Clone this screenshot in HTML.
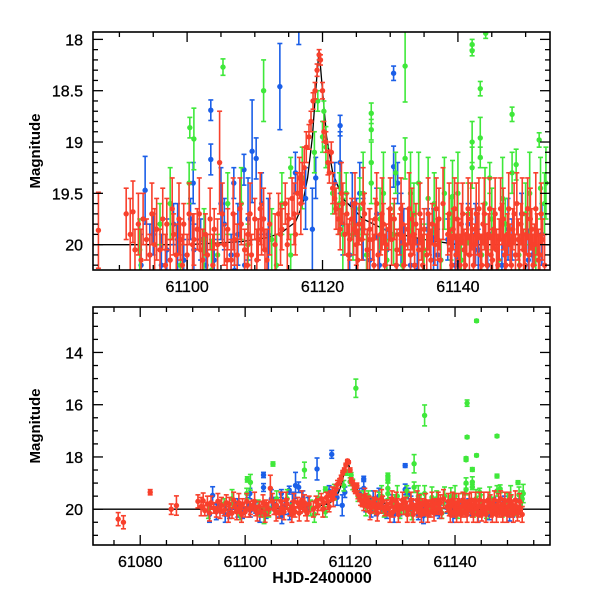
<!DOCTYPE html>
<html><head><meta charset="utf-8"><style>
html,body{margin:0;padding:0;background:#fff;}
svg{display:block;font-family:"Liberation Sans",sans-serif;}
</style></head><body>
<svg id="chart" width="600" height="600" viewBox="0 0 600 600" xmlns="http://www.w3.org/2000/svg">
<defs>
<clipPath id="clipTop"><rect x="93" y="32" width="457" height="238"/></clipPath>
<clipPath id="clipBot"><rect x="93" y="307" width="457" height="238"/></clipPath>
</defs>
<g id="top"></g>
<g id="bot"></g>
</svg>
<script>
// ---- data: [HJD-2400000, magnitude, error] ----
const redPts = [
[61075.8,20.38,0.25],[61076.8,20.5,0.25],[61081.9,19.35,0.1],[61085.9,20.0,0.2],[61086.9,19.86,0.37],
[61091,19.7,0.25],[61092,19.68,0.3],[61092.3,20.05,0.2],[61093.5,19.75,0.25],[61094,19.95,0.2],[61094.5,20.1,0.2],
[61095.5,19.85,0.3],[61096,20.05,0.2],[61097,19.8,0.25],[61097.5,20.15,0.2],[61098,19.9,0.2],[61099,19.95,0.2],
[61099.5,19.8,0.2],[61100,20.1,0.2],[61101,19.95,0.25],[61101.5,19.85,0.2],[61102,20.05,0.2],[61102.7,19.9,0.2],
[61103,20.1,0.2],[61104,19.85,0.2],[61104.5,20.0,0.25],[61104.8,19.2,0.5],[61105.5,20.0,0.2],[61106,19.85,0.2],
[61106.5,20.15,0.2],[61107,19.95,0.25],[61108,19.8,0.2],[61108.5,20.05,0.2],[61109,19.9,0.2],[61109.5,20.1,0.2],
[61110,19.75,0.2],[61110.5,19.95,0.2],[61111,19.85,0.25],[61111.5,20.05,0.2],[61113.5,19.7,0.2],[61114,19.85,0.2],
[61114.5,19.6,0.2],[61115,19.75,0.2],[61115.5,19.55,0.2],[61116,19.9,0.2],[61116.3,19.5,0.2],[61116.6,19.35,0.2],
[61117,19.4,0.2],[61117.3,19.25,0.2],[61117.6,19.05,0.15],[61118,18.95,0.12],[61118.3,18.8,0.1],[61118.6,18.6,0.08],
[61118.9,18.5,0.08],[61119.2,18.3,0.06],[61119.5,18.15,0.05],[61119.7,18.2,0.05],[61120,18.5,0.08],[61120.2,18.9,0.1],
[61120.5,19.0,0.1],[61120.8,19.2,0.12],[61121,19.3,0.1],[61121.3,19.1,0.1],[61121.5,19.45,0.15],[61121.8,19.55,0.15],
[61122,19.65,0.2],[61122.3,19.75,0.15],[61122.6,19.85,0.2],[61123,19.6,0.2],[61123.3,19.9,0.2],[61123.6,19.7,0.2],
[61124,19.95,0.2],[61124.3,19.75,0.2],[61124.6,19.85,0.25],[61125,20.0,0.2],[61125.4,19.8,0.2],[61125.8,19.95,0.2],
[61126.2,19.7,0.2],[61126.6,20.05,0.2],[61127,19.85,0.2],[61127.4,19.95,0.2],[61127.8,19.75,0.2],[61128.2,20.1,0.2],
[61128.6,19.9,0.2],[61129,19.8,0.2],[61129.4,20.0,0.2],[61129.8,19.85,0.2],[61130.2,19.95,0.25],[61130.6,19.75,0.2],
[61131,20.05,0.2],[61131.4,19.9,0.2],[61131.8,19.8,0.2],[61132.2,20.0,0.2],[61132.6,19.85,0.2],[61133,20.1,0.2],
[61133.4,19.9,0.2],[61133.8,19.8,0.2],[61134.2,20.05,0.2],[61134.6,19.95,0.2],[61135,19.85,0.2],[61135.4,20.1,0.2],
[61135.8,19.9,0.2],[61136.2,19.8,0.2],[61136.6,20.0,0.2],[61137,19.95,0.2],[61137.4,20.15,0.2],[61138.5,19.9,0.2],
[61138.9,20.05,0.2],[61139.3,19.85,0.2],[61139.7,20.1,0.2],[61140.1,19.95,0.2],[61140.5,19.8,0.2],[61140.9,20.05,0.2],
[61141.3,19.9,0.2],[61141.7,20.1,0.2],[61142.1,19.85,0.2],[61142.5,20.0,0.2],[61142.9,19.9,0.2],[61143.3,20.1,0.2],
[61143.7,19.8,0.2],[61144.1,20.0,0.2],[61144.5,19.9,0.2],[61144.9,20.1,0.2],[61145.3,19.85,0.2],[61145.7,20.05,0.2],
[61146.1,19.95,0.2],[61146.5,19.8,0.2],[61146.9,20.1,0.2],[61147.3,19.9,0.2],[61147.7,20.0,0.2],[61148.1,19.85,0.2],
[61148.5,20.1,0.2],[61148.9,19.95,0.2],[61149.3,19.8,0.2],[61149.7,20.05,0.2],[61150.1,19.9,0.2],[61150.5,20.1,0.2],
[61150.9,19.85,0.2],[61151.3,20.0,0.2],[61151.7,19.9,0.2],[61152.1,20.1,0.2],[61152.5,19.95,0.2]
];
const redExtra = [
[61091.6,19.9,0.35],[61092.8,19.8,0.3],[61093.2,20.15,0.3],[61094.8,19.7,0.3],[61095.2,20.0,0.35],[61096.4,19.75,0.3],
[61096.8,20.2,0.3],[61097.8,19.65,0.3],[61098.4,20.1,0.3],[61098.8,19.75,0.35],[61099.3,20.2,0.3],[61100.3,19.7,0.3],
[61100.8,20.0,0.3],[61101.8,19.7,0.35],[61102.3,20.15,0.3],[61103.4,19.75,0.3],[61103.8,20.2,0.3],[61105.2,19.7,0.3],
[61105.9,20.15,0.3],[61106.8,19.7,0.35],[61107.4,20.1,0.3],[61107.8,19.65,0.3],[61108.9,20.2,0.3],[61109.3,19.7,0.3],
[61110.3,20.15,0.3],[61110.8,19.65,0.35],[61111.3,19.75,0.3],[61111.8,20.15,0.3],[61112.2,19.8,0.3],[61113.0,20.0,0.3],
[61113.8,19.9,0.3],[61114.8,20.0,0.3],[61115.8,19.7,0.3],[61116.8,19.6,0.3],
[61122.8,19.5,0.3],[61123.8,20.1,0.3],[61124.8,19.6,0.3],[61125.2,20.15,0.3],[61126.0,19.6,0.35],[61126.9,19.95,0.3],
[61127.6,20.2,0.3],[61128.0,19.6,0.3],[61128.8,19.7,0.35],[61129.2,20.2,0.3],[61130.0,19.65,0.3],[61130.9,20.2,0.3],
[61131.6,19.65,0.3],[61132.0,20.2,0.3],[61132.8,19.65,0.35],[61133.2,19.75,0.3],[61133.6,20.2,0.3],[61134.4,19.7,0.3],
[61134.8,20.2,0.3],[61135.6,19.7,0.35],[61136.0,20.15,0.3],[61136.8,19.65,0.3],[61137.2,19.75,0.3],[61137.8,19.6,0.35],
[61138.7,19.7,0.3],[61139.1,20.2,0.3],[61139.5,19.65,0.3],[61139.9,19.75,0.35],[61140.3,20.2,0.3],[61140.7,19.7,0.3],
[61141.1,20.2,0.3],[61141.5,19.65,0.3],[61141.9,19.75,0.35],[61142.3,20.2,0.3],[61142.7,19.7,0.3],[61143.1,19.65,0.3],
[61143.5,20.2,0.3],[61143.9,19.7,0.35],[61144.3,20.2,0.3],[61144.7,19.65,0.3],[61145.1,20.15,0.3],[61145.5,19.7,0.35],
[61145.9,20.2,0.3],[61146.3,19.65,0.3],[61146.7,19.75,0.3],[61147.1,20.2,0.3],[61147.5,19.65,0.35],[61147.9,20.2,0.3],
[61148.3,19.7,0.3],[61148.7,19.6,0.3],[61149.1,20.2,0.3],[61149.5,19.7,0.35],[61149.9,20.2,0.3],[61150.3,19.65,0.3],
[61150.7,19.75,0.3],[61151.1,20.2,0.3],[61151.5,19.65,0.35],[61151.9,20.15,0.3],[61152.3,19.7,0.3],[61152.8,20.2,0.3]
];
const bluePts = [
[61093.8,19.47,0.33],[61103.5,18.69,0.1],[61103.5,19.17,0.15],[61109.6,19.09,0.5],[61110.2,19.16,0.2],
[61113.7,18.46,0.42],[61116.5,17.9,0.15],[61108.4,19.27,0.15],[61100.9,19.4,0.2],[61106.9,19.4,0.15],
[61122.6,18.84,0.1],[61130.5,18.33,0.07],[61130.5,19.24,0.2],[61131.1,19.4,0.2],[61122.6,19.2,0.3],
[61125.5,19.5,0.3],[61149.4,19.7,0.2],
[61094.5,20.1,0.3],[61095,19.9,0.2],[61097,20.05,0.3],[61098,19.8,0.2],[61099.5,20.15,0.2],[61100.5,19.75,0.2],
[61101,20.05,0.25],[61102,19.95,0.2],[61104,20.15,0.2],[61105.5,19.8,0.25],[61106.5,20.1,0.2],[61107.5,19.9,0.3],
[61108.5,20.2,0.2],[61110.5,19.95,0.2],[61111,19.6,0.3],[61116,19.3,0.2],[61117.5,19.55,0.3],[61118.5,19.85,0.4],
[61119,19.35,0.2],[61121.8,19.4,0.2],[61123,19.8,0.3],[61124,20.1,0.2],[61126,19.85,0.3],[61127,20.15,0.2],
[61128,19.7,0.25],[61129.5,20.05,0.2],[61132,19.95,0.3],[61133,20.2,0.2],[61135.5,19.85,0.2],[61137,20.1,0.25],
[61138.5,19.95,0.2],[61140,20.15,0.2],[61141.5,19.8,0.2],[61143,20.05,0.2],[61145,19.9,0.25],[61146.5,20.2,0.2],
[61148,19.95,0.2],[61151,20.1,0.2],
[61093.2,20.2,0.3],[61096.2,20.2,0.3],[61098.6,19.95,0.35],[61102.8,20.2,0.3],[61105,19.6,0.35],[61107,20.25,0.3],
[61109,19.75,0.4],[61112,19.9,0.35],[61124.4,19.6,0.3],[61125,19.9,0.35],[61128.4,20.2,0.3],[61131.6,19.85,0.35],
[61134,20.25,0.3],[61136.4,19.95,0.3],[61139.6,20.2,0.3],[61142.6,19.9,0.3],[61144.4,20.2,0.3],[61147.4,19.85,0.3],
[61150.4,20.15,0.3],[61152.4,19.9,0.3]
];
const greenPts = [
[61105.3,18.27,0.08],[61100.4,18.86,0.1],[61101,18.97,0.3],[61111.3,18.5,0.3],[61100.3,19.4,0.2],
[61115.3,19.25,0.1],[61115.3,20.1,0.2],[61119.3,18.6,0.1],[61120.2,18.7,0.1],[61120.0,18.95,0.15],
[61121.1,15.37,0.35],[61127.2,18.72,0.1],[61127.2,18.88,0.1],[61127.2,19.2,0.2],[61127.2,19.4,0.2],
[61132.2,18.26,0.35],[61132.2,19.16,0.2],[61134.2,16.41,0.4],[61142.3,15.94,0.12],[61142.3,17.24,0.05],
[61142.1,18.05,0.05],[61142.1,18.11,0.05],[61144.1,12.79,0.05],[61144.1,17.94,0.05],[61143.3,18.48,0.07],
[61142.1,19.0,0.2],[61142.1,19.25,0.2],[61143.3,18.96,0.2],[61143.3,19.15,0.1],[61148.0,17.2,0.05],
[61148.0,18.73,0.07],[61152.0,18.98,0.07],[61148.6,19.22,0.15],[61148.0,19.3,0.2],[61139.2,19.53,0.35],
[61134.2,19.4,0.3],[61130.8,19.3,0.2],[61144.7,19.35,0.15],[61152.2,19.45,0.3],
[61093,20.05,0.3],[61096,19.8,0.2],[61099,20.2,0.2],[61102.5,19.95,0.3],[61104.5,20.1,0.2],[61106,19.6,0.3],
[61109,20.0,0.2],[61112.5,19.95,0.3],[61114,19.6,0.3],[61117,19.35,0.3],[61118.8,19.1,0.2],[61120.5,19.05,0.2],
[61121.5,19.5,0.2],[61122.5,19.6,0.3],[61123.5,19.5,0.2],[61124.5,19.9,0.25],[61125.5,19.65,0.3],[61126.5,20.1,0.2],
[61128.5,19.75,0.3],[61129.5,20.15,0.2],[61130.5,19.9,0.3],[61131.8,20.2,0.2],[61133.5,19.7,0.3],[61135,20.05,0.25],
[61136.5,19.6,0.3],[61137.5,20.15,0.2],[61139,19.85,0.3],[61140.5,20.15,0.2],[61141.5,19.7,0.3],[61143.5,20.1,0.2],
[61145,19.75,0.3],[61146,20.15,0.2],[61147,19.8,0.25],[61149,20.1,0.2],[61150,19.7,0.3],[61151.5,20.05,0.2],
[61152.8,19.6,0.3],
[61097.5,19.6,0.35],[61103.6,20.25,0.3],[61108,19.6,0.35],[61113.2,20.2,0.3],[61123,19.9,0.35],[61126,19.5,0.4],
[61129,19.5,0.4],[61133,19.5,0.4],[61135.6,19.55,0.4],[61138,19.5,0.35],[61140,19.5,0.4],[61144,19.6,0.35],
[61146.6,19.55,0.4],[61150.6,19.5,0.4],[61153,19.4,0.35]
];
const modelDays = [61070,61100,61108,61112,61114,61116,61117,61117.8,61118.5,61119.0,61119.5,61120.0,61120.6,61121.5,61123,61126,61130,61135,61140,61160];
const modelMags = [20.0,20.0,19.97,19.93,19.88,19.78,19.62,19.35,18.95,18.5,18.1,18.5,18.95,19.3,19.55,19.75,19.88,19.95,20.0,20.0];
const topXTicks = [61100,61120,61140];
const topYTicks = [18,18.5,19,19.5,20];
const botXTicks = [61080,61100,61120,61140];
const botYTicks = [14,16,18,20];

const NS = "http://www.w3.org/2000/svg";
function mk(parent, tag, attrs){const e=document.createElementNS(NS,tag);for(const k in attrs)e.setAttribute(k,attrs[k]);parent.appendChild(e);return e;}

const panels = [
 {g:document.getElementById('top'), clip:'clipTop', x0:93,x1:550,y0:32,y1:270, d0:61086.1,d1:61153.6, m0:17.928,m1:20.247,
  xt:topXTicks, xminor:5, yt:topYTicks, yminor:0.1, fmt:v=>String(v), name:'top'},
 {g:document.getElementById('bot'), clip:'clipBot', x0:93,x1:550,y0:307,y1:545, d0:61071.0,d1:61158.1, m0:12.26,m1:21.37,
  xt:botXTicks, xminor:5, yt:botYTicks, yminor:0.5, fmt:v=>String(v), name:'bottom'}
];

panels.forEach(P=>{
  const sx=d=>P.x0+(d-P.d0)/(P.d1-P.d0)*(P.x1-P.x0);
  const sy=m=>P.y0+(m-P.m0)/(P.m1-P.m0)*(P.y1-P.y0);
  const plot=mk(P.g,'g',{'clip-path':'url(#'+P.clip+')'});
  
  
  let dstr='';
  modelDays.forEach((d,i)=>{dstr+=(i?'L':'M')+sx(d).toFixed(1)+' '+sy(modelMags[i]).toFixed(1);});
  const ml=mk(plot,'path',{d:dstr,fill:'none',stroke:'#000','stroke-width':1.3});
  
  
  const series=[['blue',bluePts,'#1b5fe8'],['green',greenPts,'#3fe83a'],['red',redExtra.concat(redPts),'#f8402c']];
  series.forEach(([nm,pts,col])=>{
    const sg=mk(plot,'g',{stroke:col,fill:col,'stroke-width':1.6});
    
    
    pts.forEach(p=>{
      const x=sx(p[0]), y=sy(p[1]), ya=sy(p[1]-p[2]), yb=sy(p[1]+p[2]);
      const pg=mk(sg,'g',{});
      
      
      mk(pg,'line',{x1:x,y1:ya,x2:x,y2:yb});
      mk(pg,'line',{x1:x-2.5,y1:ya,x2:x+2.5,y2:ya});
      mk(pg,'line',{x1:x-2.5,y1:yb,x2:x+2.5,y2:yb});
      mk(pg,'circle',{cx:x,cy:y,r:2.7,stroke:'none'});
    });
  });
  const fr=mk(P.g,'rect',{x:P.x0,y:P.y0,width:P.x1-P.x0,height:P.y1-P.y0,fill:'none',stroke:'#000','stroke-width':1.6});
  
  
  const tg=mk(P.g,'g',{stroke:'#000','stroke-width':1.3});
  
  
  const isMajX=d=>P.xt.some(t=>Math.abs(t-d)<1e-6)||Math.abs(((d-61080)%20+20)%20)<1e-6;
  for(let d=Math.ceil(P.d0/P.xminor)*P.xminor; d<=P.d1; d+=P.xminor){
    const x=sx(d), L=isMajX(d)?10:5;
    mk(tg,'line',{x1:x,y1:P.y1,x2:x,y2:P.y1-L});
    mk(tg,'line',{x1:x,y1:P.y0,x2:x,y2:P.y0+L});
  }
  const mj=P.yt[1]-P.yt[0];
  for(let k=Math.ceil(P.m0/P.yminor-1e-6); k*P.yminor<=P.m1+1e-9; k++){
    const m=k*P.yminor, y=sy(m);
    const r=m/mj; const L=Math.abs(r-Math.round(r))<1e-6?10:5;
    mk(tg,'line',{x1:P.x0,y1:y,x2:P.x0+L,y2:y});
    mk(tg,'line',{x1:P.x1,y1:y,x2:P.x1-L,y2:y});
  }
  P.xt.forEach(d=>{
    const t=mk(P.g,'text',{x:sx(d),y:P.y1+22,'text-anchor':'middle','font-size':16,fill:'#000',stroke:'#000','stroke-width':0.3});
    t.textContent=P.fmt(d);
    
    
  });
  P.yt.forEach(m=>{
    const t=mk(P.g,'text',{x:P.x0-10,y:sy(m)+6,'text-anchor':'end','font-size':16,fill:'#000',stroke:'#000','stroke-width':0.3});
    t.textContent=P.fmt(m);
    
    
  });
  const yt=mk(P.g,'text',{x:0,y:0,'text-anchor':'middle','font-size':15,'font-weight':'bold',fill:'#000',transform:'translate(40,'+((P.y0+P.y1)/2)+') rotate(-90)'});
  yt.textContent='Magnitude';
  
  
});
const xt=mk(document.getElementById('bot'),'text',{x:322,y:583,'text-anchor':'middle','font-size':16,'font-weight':'bold',fill:'#000'});
xt.textContent='HJD-2400000';


</script>
</body></html>
